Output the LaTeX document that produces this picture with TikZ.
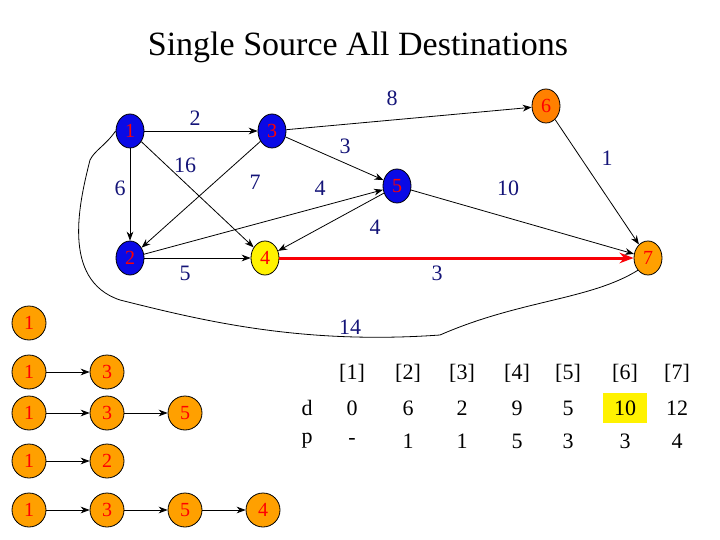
\documentclass[tikz,border=0pt]{standalone}
\usepackage{fontspec}
\setmainfont{Liberation Serif}
\usetikzlibrary{arrows.meta}
\definecolor{navyblue}{RGB}{20,20,120}
\definecolor{vorange}{RGB}{255,160,0}
\definecolor{vblue}{RGB}{10,10,230}
\tikzset{
  vtx/.style={ellipse,draw,thick,minimum width=28pt,minimum height=34pt,inner sep=0pt,text=red,font=\fontsize{20}{20}\selectfont},
  pvtx/.style={circle,draw,thick,fill=vorange,minimum size=34pt,inner sep=0pt,text=red,font=\fontsize{20}{20}\selectfont},
  wt/.style={text=navyblue,font=\fontsize{22}{22}\selectfont},
  tab/.style={font=\fontsize{22}{22}\selectfont},
  edge/.style={-{Stealth[length=9pt]},thick}
}
\usetikzlibrary{shapes.geometric}
\begin{document}
\begin{tikzpicture}[x=1pt,y=-1pt]
  \useasboundingbox (0,0) rectangle (720,540);
  \node at (358,47) {\fontsize{34}{34}\selectfont Single Source All Destinations};
  % graph
  \node[vtx,fill=vblue] (n1) at (130,131) {1};
  \node[vtx,fill=vblue] (n3) at (272,131) {3};
  \node[vtx,fill=orange] (n6) at (546,106) {6};
  \node[vtx,fill=vblue] (n5) at (397,186) {5};
  \node[vtx,fill=vblue] (n2) at (130,258) {2};
  \node[vtx,fill=yellow] (n4) at (265,258) {4};
  \node[vtx,fill=vorange] (n7) at (648,258) {7};
  \draw[edge] (n1) -- (n3);
  \draw[edge] (n1) -- (n2);
  \draw[edge] (n1) -- (n4);
  \draw[edge] (n3) -- (n2);
  \draw[edge] (n3) -- (n5);
  \draw[edge] (n3) -- (n6);
  \draw[edge] (n2) -- (n5);
  \draw[edge] (n5) -- (n4);
  \draw[edge] (n2) -- (n4);
  \draw[edge] (n5) -- (n7);
  \draw[edge] (n6) -- (n7);
  \draw[-{Stealth[length=14pt]},line width=3pt,red!90!purple] (n4) -- (n7);
  \draw[thick] (n7.south west) .. controls (590,300) and (520,300) .. (440,335)
    .. controls (300,345) and (200,320) .. (120,300)
    .. controls (60,280) and (80,200) .. (90,160)
    .. controls (95,150) and (105,146) .. (n1.west);
  \node[wt] at (195,118) {2};
  \node[wt] at (185,165) {16};
  \node[wt] at (120,188) {6};
  \node[wt] at (255,182) {7};
  \node[wt] at (345,146) {3};
  \node[wt] at (320,188) {4};
  \node[wt] at (392,98) {8};
  \node[wt] at (607,158) {1};
  \node[wt] at (508,188) {10};
  \node[wt] at (375,227) {4};
  \node[wt] at (185,273) {5};
  \node[wt] at (437,273) {3};
  \node[wt] at (350,327) {14};
  % paths
  \foreach \row/\y/\lst in {a/323/{1}, b/372/{1,3}, c/413/{1,3,5}, d/461/{1,2}, e/510/{1,3,5,4}}{
    \foreach \v [count=\i] in \lst {
      \node[pvtx] (\row\i) at ({29+(\i-1)*78},\y) {\v};
    }
  }
  \foreach \row/\n in {b/2, c/3, d/2, e/4}{
    \foreach \i [remember=\i as \j (initially 1)] in {2,...,\n}{
      \draw[edge] (\row\j) -- (\row\i);
    }
  }
  % table
  \fill[yellow] (603,393) rectangle (647,423);
  \node[tab] (hd) at (307,408) {d};
  \node[tab] (hp) at (307,441) {p};
  \foreach \x/\k/\d/\p in {352/1/0/-, 408/2/6/1, 462/3/2/1, 517/4/9/5, 568/5/5/3, 625/6/10/3, 677/7/12/4}{
    \node[tab] (c\k) at (\x,373) {[\k]};
    \node[tab] (d\k) at (\x,408) {\d};
    \node[tab] (p\k) at (\x,441) {\p};
  }
\end{tikzpicture}
\end{document}
